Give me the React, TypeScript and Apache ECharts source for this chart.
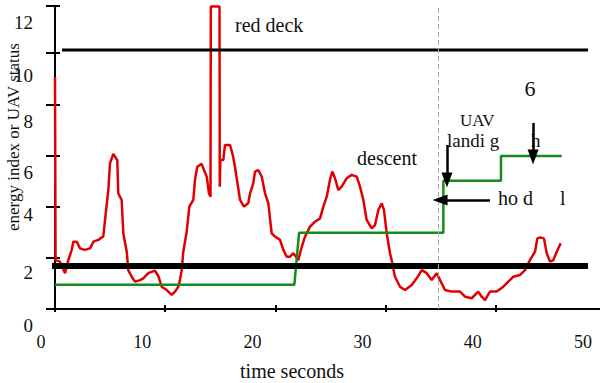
import React, { useEffect, useRef } from 'react';
import * as echarts from 'echarts';

// energy index (time s, value)
const energyT = [0, 0.05, 0.45, 0.91, 1.21, 1.52, 1.66, 1.97, 2.27, 2.72, 3.18, 3.48, 3.93, 4.38, 4.54, 4.84, 4.99, 5.29, 5.65, 5.74, 6.05, 6.2, 6.51, 6.65, 6.96, 7.26, 7.71, 8.01, 8.47, 9.07, 9.37, 9.68, 10.14, 10.59, 10.89, 11.19, 11.34, 11.5, 11.64, 11.95, 12.19, 12.55, 12.7, 12.91, 13.31, 13.52, 13.77, 13.97, 14.11, 14.14, 14.93, 14.95, 15.0, 15.27, 15.43, 15.88, 16.13, 16.33, 16.63, 16.79, 17.15, 17.54, 17.7, 17.99, 18.15, 18.45, 18.76, 19.06, 19.36, 19.66, 19.96, 20.42, 20.72, 21.03, 21.32, 21.63, 22.08, 22.39, 22.69, 23.14, 23.59, 24.05, 24.35, 24.66, 24.95, 25.16, 25.41, 25.71, 26.02, 26.47, 26.92, 27.38, 27.68, 27.98, 28.28, 28.74, 29.04, 29.34, 29.65, 29.85, 30.1, 30.4, 30.55, 30.85, 31.31, 31.76, 32.37, 32.82, 33.28, 33.73, 34.18, 34.64, 35.09, 35.39, 36.0, 36.75, 37.21, 37.81, 38.41, 38.72, 39.02, 39.47, 40.08, 40.68, 41.13, 41.59, 42.2, 42.65, 43.1, 43.56, 43.77, 44.01, 44.37, 44.62, 44.92, 45.22, 45.53, 45.89];
const energyV = [9.07, 1.91, 1.85, 1.4, 1.91, 2.31, 2.63, 2.63, 2.37, 2.31, 2.37, 2.63, 2.7, 2.83, 3.48, 4.65, 5.69, 6.06, 5.82, 4.52, 4.26, 2.96, 2.24, 1.52, 1.26, 1.07, 1.13, 1.2, 1.4, 1.5, 1.29, 0.87, 0.74, 0.55, 0.68, 0.87, 1.13, 1.52, 2.24, 3.02, 4.0, 4.26, 5.04, 5.56, 5.67, 5.43, 5.17, 4.52, 4.39, 11.82, 11.82, 4.78, 5.82, 5.82, 6.41, 6.41, 6.02, 5.56, 4.72, 4.26, 4.0, 4.14, 4.52, 4.91, 5.37, 5.43, 5.17, 4.52, 4.13, 2.96, 2.83, 2.7, 2.31, 2.04, 2.04, 2.18, 1.91, 2.43, 2.83, 3.22, 3.41, 3.54, 4.0, 4.39, 5.04, 5.37, 5.11, 4.65, 4.78, 5.11, 5.24, 5.17, 4.78, 4.26, 3.48, 3.15, 3.28, 3.87, 4.13, 3.87, 2.96, 2.18, 1.91, 1.26, 0.87, 0.74, 0.94, 1.2, 1.52, 1.4, 1.13, 1.4, 1.0, 0.74, 0.68, 0.68, 0.48, 0.42, 0.68, 0.48, 0.35, 0.68, 0.68, 0.87, 1.07, 1.26, 1.33, 1.52, 1.91, 2.24, 2.76, 2.8, 2.76, 2.18, 1.85, 1.91, 2.24, 2.57];

// UAV status (step)
const statusT = [0, 21.72, 22.15, 35.24, 35.24, 40.47, 40.47, 45.98];
const statusV = [0.95, 0.95, 2.98, 2.98, 5.01, 5.01, 5.98, 5.98];

// reference levels
const redDeckLevel = 10.12;
const redDeckStart = 0.64;
const redDeckEnd = 48.37;
const holdLevel = 1.68;
const holdStart = -0.45;
const holdEnd = 48.37;
const landingTime = 34.75;

// annotation arrows: [x1, y1, x2, y2] in data units
const arrowLanding = [35.57, 6.41, 35.57, 5.04];
const arrowSix = [43.38, 7.27, 43.38, 5.94];
const arrowHold = [39.47, 4.26, 34.94, 4.26];

const Y_MAX = 11.84;
const X_MAX = 50;

const FONT = 'Liberation Serif';

export default function App() {
  const ref = useRef<HTMLDivElement>(null);
  useEffect(() => {
    document.body.style.margin = '0';
    const chart = echarts.init(ref.current!, null, { renderer: 'svg' });
    const energy = energyT.map((t, i) => [t, energyV[i]]);
    const status = statusT.map((t, i) => [t, statusV[i]]);
    const arrow = (a: number[]) => [
      { coord: [a[0], a[1]], symbol: 'none' },
      { coord: [a[2], a[3]], symbol: 'triangle', symbolSize: [11, 15] },
    ];
    const yOff: Record<string, number> = { '0': 16, '2': 15, '4': 8, '6': 17, '8': 17, '10': 22, '12': 16 };
    const yRich: Record<string, any> = {};
    Object.keys(yOff).forEach((k) => {
      yRich['y' + k] = { fontFamily: FONT, fontSize: 19, color: '#111', padding: [yOff[k] * 2, 0, 0, 0] };
    });
    const xRich: Record<string, any> = {};
    ['0', '10', '20', '30', '40', '50'].forEach((k) => {
      xRich['x' + k] = { fontFamily: FONT, fontSize: 18, color: '#111', padding: [0, k === '0' ? 28 : 46, 0, 0] };
    });
    const text = (t: string, x: number, y: number, size: number, align = 'left') => ({
      type: 'text',
      x,
      y,
      silent: true,
      style: { text: t, fontFamily: FONT, fontSize: size, fill: '#111', align, verticalAlign: 'middle' },
    });
    chart.setOption({
      animation: false,
      textStyle: { fontFamily: FONT },
      grid: { left: 55, top: 6, width: 551, height: 303, containLabel: false, outerBoundsMode: 'none' },
      xAxis: [
        {
          type: 'value', min: 0, max: X_MAX, interval: 10, position: 'bottom',
          axisLine: { show: true, lineStyle: { color: '#000', width: 2 } },
          axisTick: { show: true, inside: true, length: 4, lineStyle: { color: '#000', width: 2 } },
          axisLabel: {
            margin: 24,
            fontFamily: FONT,
            formatter: (v: number) => `{x${v}|${v}}`,
            rich: xRich,
          },
          splitLine: { show: false },
        },
        {
          type: 'value', min: 0, max: X_MAX, interval: 10, position: 'top',
          axisLine: { show: true, lineStyle: { color: '#000', width: 2 } },
          axisTick: { show: true, inside: true, length: 3, lineStyle: { color: '#000', width: 2 } },
          axisLabel: { show: false },
          splitLine: { show: false },
        },
      ],
      yAxis: [
        {
          type: 'value', min: 0, max: Y_MAX, interval: 2, position: 'left',
          axisLine: { show: true, lineStyle: { color: '#000', width: 2 } },
          axisTick: { show: true, inside: true, length: 5, lineStyle: { color: '#000', width: 2 } },
          axisLabel: {
            margin: 22,
            fontFamily: FONT,
            formatter: (v: number) => {
              const lab = v > 11 ? '12' : String(Math.round(v));
              return `{y${lab}|${lab}}`;
            },
            rich: yRich,
          },
          splitLine: { show: false },
        },
        {
          type: 'value', min: 0, max: Y_MAX, interval: 2, position: 'right',
          axisLine: { show: true, lineStyle: { color: '#000', width: 2 } },
          axisTick: { show: true, inside: true, length: 9, lineStyle: { color: '#000', width: 2 } },
          axisLabel: { show: false },
          splitLine: { show: false },
        },
      ],
      series: [
        {
          type: 'line', name: 'energy index', data: energy, showSymbol: false, symbol: 'none',
          lineStyle: { color: '#e00000', width: 2.5 }, z: 2,
        },
        {
          type: 'line', name: 'UAV status', data: status, showSymbol: false, symbol: 'none',
          lineStyle: { color: '#178a17', width: 2.5 }, z: 3,
          markLine: {
            silent: true, animation: false, symbol: 'none', label: { show: false },
            lineStyle: { color: '#aaa', width: 1, type: [5, 3] },
            data: [{ xAxis: landingTime }],
          },
        },
        {
          type: 'line', name: 'red deck', data: [[redDeckStart, redDeckLevel], [redDeckEnd, redDeckLevel]],
          showSymbol: false, symbol: 'none', lineStyle: { color: '#000', width: 3 }, z: 4,
        },
        {
          type: 'line', name: 'hold', clip: false, data: [[holdStart, holdLevel], [holdEnd, holdLevel]],
          showSymbol: false, symbol: 'none', lineStyle: { color: '#000', width: 6 }, z: 4,
          markLine: {
            silent: true, animation: false, label: { show: false },
            lineStyle: { color: '#000', width: 2.5, type: 'solid' },
            itemStyle: { color: '#000' },
            data: [arrow(arrowLanding), arrow(arrowSix), arrow(arrowHold)],
          },
        },
      ],
      graphic: [
        { ...text('energy index or UAV status', 13, 137, 17, 'center'), rotation: Math.PI / 2 },
        text('time seconds', 292, 371, 20, 'center'),
        text('red deck', 235, 25, 20),
        text('descent', 357, 158, 20),
        text('UAV', 460, 120, 17),
        text('landi g', 447, 140, 19),
        text('h', 531, 140, 19),
        text('6', 530, 88, 22, 'center'),
        text('ho d', 498, 198, 20),
        text('l', 560, 198, 20),
      ],
    });
    return () => chart.dispose();
  }, []);
  return <div ref={ref} style={{ width: 600, height: 383 }} />;
}
